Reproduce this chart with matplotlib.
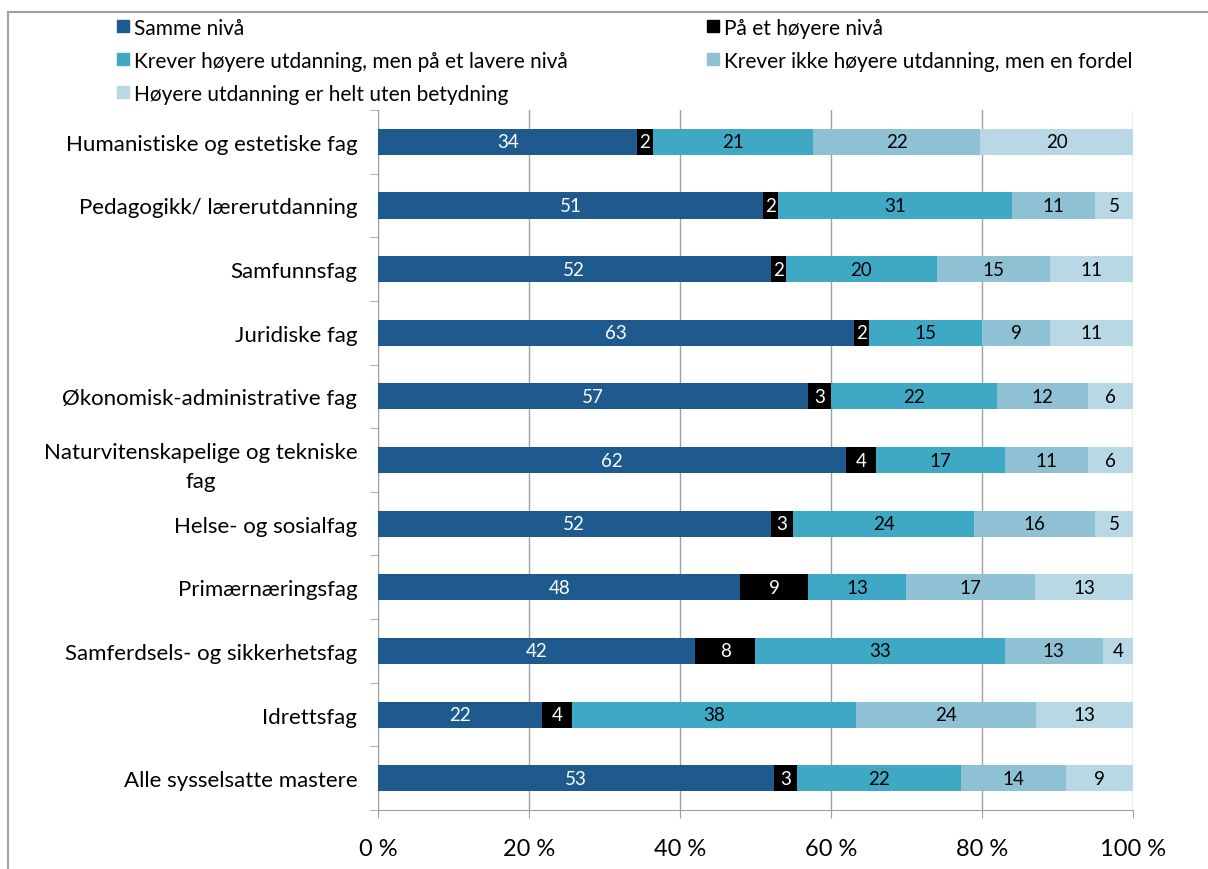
import numpy as np
import matplotlib.pyplot as plt
from matplotlib.lines import Line2D

plt.rcParams['font.family'] = ['Lato', 'DejaVu Sans']

categories = ['Humanistiske og estetiske fag', 'Pedagogikk/ lærerutdanning', 'Samfunnsfag',
              'Juridiske fag', 'Økonomisk-administrative fag',
              'Naturvitenskapelige og tekniske\nfag', 'Helse- og sosialfag', 'Primærnæringsfag',
              'Samferdsels- og sikkerhetsfag', 'Idrettsfag', 'Alle sysselsatte mastere']

series_names = ['Samme nivå', 'På et høyere nivå', 'Krever høyere utdanning, men på et lavere nivå',
                'Krever ikke høyere utdanning, men en fordel', 'Høyere utdanning er helt uten betydning']

samme = [34, 51, 52, 63, 57, 62, 52, 48, 42, 22, 53]
hoyere = [2, 2, 2, 2, 3, 4, 3, 9, 8, 4, 3]
lavere = [21, 31, 20, 15, 22, 17, 24, 13, 33, 38, 22]
fordel = [22, 11, 15, 9, 12, 11, 16, 17, 13, 24, 14]
uten = [20, 5, 11, 11, 6, 6, 5, 13, 4, 13, 9]

colors = ['#1f5a8e', '#000000', '#3fa9c5', '#8ec1d4', '#b9d8e5']
text_colors = ['white', 'white', 'black', 'black', 'black']

data = np.array([samme, hoyere, lavere, fordel, uten], dtype=float)
pct = data / data.sum(axis=0) * 100

fig = plt.figure(figsize=(12.08, 8.70), dpi=100)
ax = fig.add_axes([0.3129, 0.0678, 0.625, 0.8046])

y = np.arange(len(categories))
left = np.zeros(len(categories))
for i in range(5):
    bars = ax.barh(y, pct[i], left=left, height=0.41, color=colors[i], label=series_names[i], zorder=3)
    for j, b in enumerate(bars):
        ax.text(left[j] + pct[i][j] / 2, y[j], '%d' % data[i][j], ha='center', va='center',
                color=text_colors[i], fontsize=13.5, zorder=4)
    left += pct[i]

ax.set_xlim(0, 100)
ax.set_ylim(len(categories) - 0.5, -0.5)
ax.set_xticks(np.arange(0, 101, 20))
ax.set_xticklabels(['%d %%' % v for v in range(0, 101, 20)], fontsize=17)
ax.xaxis.grid(True, color='#a0a0a0', linewidth=1, zorder=0)
ax.tick_params(axis='x', length=6, color='#a0a0a0', pad=14)

ax.set_yticks(y)
ax.set_yticklabels(categories, fontsize=16)
for lab in ax.get_yticklabels():
    lab.set_multialignment('center')
    lab.set_linespacing(1.55)
ax.set_yticks(np.arange(-0.5, len(categories)), minor=True)
ax.tick_params(axis='y', which='major', length=0, pad=15)
ax.tick_params(axis='y', which='minor', length=6, color='#a0a0a0')

for s in ['top', 'right']:
    ax.spines[s].set_visible(False)
ax.spines['left'].set_color('#a0a0a0')
ax.spines['bottom'].set_color('#a0a0a0')

handles = [Line2D([], [], marker='s', linestyle='', color=c, markersize=9) for c in colors]
order = [0, 2, 4, 1, 3]
fig.legend([handles[k] for k in order], [series_names[k] for k in order], ncol=2,
           loc='upper left', bbox_to_anchor=(0.078, 1.0), frameon=False, fontsize=15,
           handletextpad=0.0, handlelength=1.0, columnspacing=6.5, labelspacing=0.62)

fig.add_artist(Line2D([0.0066, 0.0066], [0, 0.985], color='#a0a0a0', linewidth=1.5))
fig.add_artist(Line2D([0.0066, 1.0], [0.985, 0.985], color='#a0a0a0', linewidth=1.5))

fig.savefig('out.png', dpi=100)
